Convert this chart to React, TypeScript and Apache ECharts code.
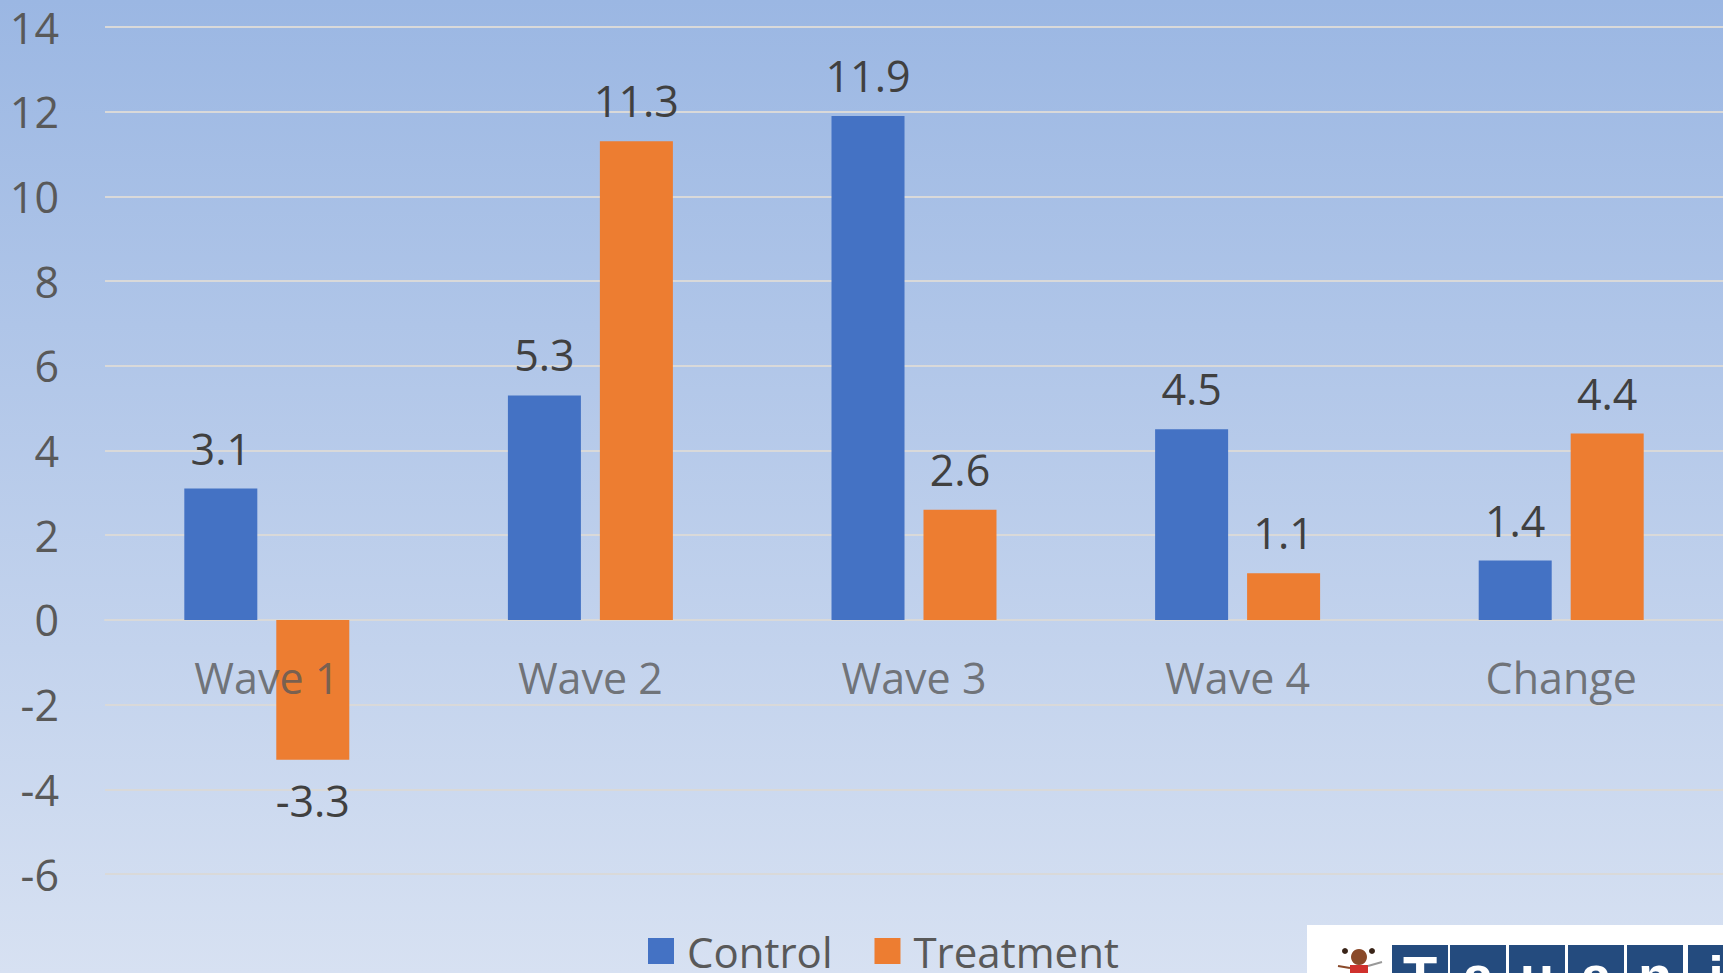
import React, { useEffect, useRef } from "react";
import * as echarts from "echarts";

const categories = ["Wave 1", "Wave 2", "Wave 3", "Wave 4", "Change"];
const controlValues = [3.1, 5.3, 11.9, 4.5, 1.4];
const treatmentValues = [-3.3, 11.3, 2.6, 1.1, 4.4];
const seriesNames = ["Control", "Treatment"];
const logoLetters = ["T", "a", "u", "a", "n", "i"];

const FONT = "'Open Sans', 'Noto Sans', sans-serif";

export default function App() {
  const ref = useRef<HTMLDivElement>(null);
  useEffect(() => {
    if (!ref.current) return;
    const chart = echarts.init(ref.current, undefined, { renderer: "svg" });
    const labelStyle = {
      show: true,
      position: "top" as const,
      distance: 19,
      fontSize: 43,
      fontFamily: FONT,
      color: "#404040",
      formatter: (p: any) => p.value.toFixed(1),
    };
    const mkData = (vals: number[]) =>
      vals.map((v) =>
        v < 0 ? { value: v, label: { position: "bottom" as const } } : v
      );
    const blockXs = [1392, 1450, 1509, 1568, 1627, 1688];
    const logo: any[] = [
      {
        type: "rect",
        shape: { x: 1307, y: 925, width: 430, height: 60 },
        style: { fill: "#ffffff" },
        z: 100,
      },
    ];
    blockXs.forEach((x, i) => {
      logo.push({
        type: "rect",
        shape: { x, y: 945, width: 56, height: 50 },
        style: { fill: "#244B7E" },
        z: 101,
      });
      logo.push({
        type: "text",
        x: x + 28,
        y: 947,
        style: {
          text: logoLetters[i],
          fill: "#ffffff",
          font: "bold 56px 'Liberation Sans', sans-serif",
          textAlign: "center",
          textVerticalAlign: "top",
        },
        z: 102,
      });
    });
    logo.push(
      { type: "circle", shape: { cx: 1345, cy: 951, r: 3 }, style: { fill: "#3a2418" }, z: 101 },
      { type: "circle", shape: { cx: 1372, cy: 951, r: 3 }, style: { fill: "#3a2418" }, z: 101 },
      { type: "circle", shape: { cx: 1359, cy: 957, r: 8 }, style: { fill: "#8a4a2a" }, z: 101 },
      { type: "rect", shape: { x: 1350, y: 965, width: 18, height: 10 }, style: { fill: "#d0312d" }, z: 101 },
      { type: "line", shape: { x1: 1350, y1: 968, x2: 1338, y2: 966 }, style: { stroke: "#8a4a2a", lineWidth: 2 }, z: 101 },
      { type: "line", shape: { x1: 1368, y1: 966, x2: 1382, y2: 962 }, style: { stroke: "#999", lineWidth: 2 }, z: 101 }
    );
    chart.setOption({
      animation: false,
      backgroundColor: {
        type: "linear",
        x: 0,
        y: 0,
        x2: 0,
        y2: 1,
        colorStops: [
          { offset: 0, color: "#9bb7e3" },
          { offset: 1, color: "#d7e1f2" },
        ],
      },
      grid: { left: 105, top: 27, width: 1620, height: 847, containLabel: false },
      legend: {
        data: seriesNames,
        left: 643,
        top: 925,
        itemWidth: 26,
        itemHeight: 26,
        itemGap: 42,
        icon: "rect",
        textStyle: {
          fontSize: 42,
          fontFamily: FONT,
          color: "#595959",
          padding: [0, 0, 0, 8],
        },
      },
      xAxis: {
        type: "category",
        data: categories,
        axisLine: { show: true, onZero: true, lineStyle: { color: "#d9d9d9", width: 2 } },
        axisTick: { show: false },
        axisLabel: { show: false },
      },
      yAxis: {
        type: "value",
        min: -6,
        max: 14,
        interval: 2,
        axisLine: { show: false },
        axisTick: { show: false },
        splitLine: { lineStyle: { color: "#d9d9d9", width: 2 } },
        axisLabel: {
          fontSize: 43,
          fontFamily: FONT,
          color: "#595959",
          margin: 46,
        },
      },
      series: [
        {
          name: seriesNames[0],
          type: "bar",
          data: mkData(controlValues),
          barWidth: 73,
          barGap: "26%",
          itemStyle: { color: "#4472c4" },
          label: labelStyle,
        },
        {
          name: seriesNames[1],
          type: "bar",
          data: mkData(treatmentValues),
          barWidth: 73,
          barGap: "26%",
          itemStyle: { color: "#ed7d31" },
          label: labelStyle,
          z: 3,
        },
        {
          name: "categoryLabels",
          type: "scatter",
          data: categories.map((c) => [c, 0]),
          symbolSize: 0,
          silent: true,
          z: 10,
          label: {
            show: true,
            position: "bottom",
            distance: 36,
            fontSize: 43,
            fontFamily: FONT,
            color: "#595959",
            formatter: (p: any) => p.value[0],
          },
        },
      ],
      graphic: logo,
    });
    return () => chart.dispose();
  }, []);
  return (
    <div
      ref={ref}
      style={{ position: "fixed", left: 0, top: 0, width: 1723, height: 973 }}
    />
  );
}
